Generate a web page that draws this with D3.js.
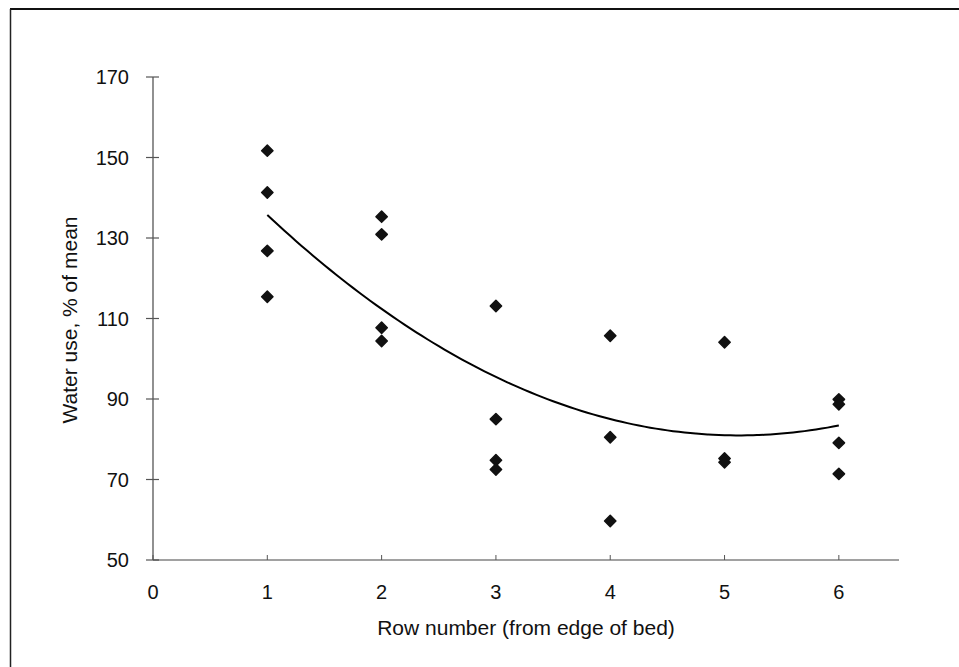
<!DOCTYPE html>
<meta charset="utf-8">
<html>
<head>
    <title>Water use by row</title>
</head>
<style>
    *{ margin:0; padding:0;}
    body{ background:#fff;}
    svg{ display:block; font-family:'Liberation Sans', Arial, sans-serif;}
</style>
<script src="https://cdn.jsdelivr.net/npm/d3@7"></script>
<div id="chartContainer"></div>
<script type="text/javascript">

    // row number of each measurement and its water use (% of mean)
    var rows   = [1, 1, 1, 1, 2, 2, 2, 2, 3, 3, 3, 3, 4, 4, 4, 5, 5, 5, 6, 6, 6, 6];
    var values = [151.7, 141.3, 126.8, 115.4,
                  135.3, 130.9, 107.7, 104.4,
                  113.1, 85.0, 74.8, 72.5,
                  105.7, 80.5, 59.7,
                  104.1, 75.2, 74.3,
                  89.9, 88.7, 79.1, 71.4];

    // polynomial trendline (order 2): c0 + c1*x + c2*x^2
    var trendCoef = [165.5, -33.0, 3.22];
    var trendFrom = 1, trendTo = 6;

    var xTicks = [0, 1, 2, 3, 4, 5, 6];
    var yTicks = [50, 70, 90, 110, 130, 150, 170];

    var width = 959, height = 667;
    var svg = d3.select("#chartContainer").append("svg")
        .attr("width", width)
        .attr("height", height);

    // frame (only top and left edges show in the scan)
    svg.append("line").attr("x1", 10).attr("x2", width).attr("y1", 9).attr("y2", 9)
        .attr("stroke", "#111").attr("stroke-width", 2);
    svg.append("line").attr("x1", 10.5).attr("x2", 10.5).attr("y1", 9).attr("y2", height)
        .attr("stroke", "#222").attr("stroke-width", 1.5);

    var x = d3.scaleLinear().domain([0, 6.5]).range([153, 896]);
    var y = d3.scaleLinear().domain([50, 170]).range([560, 77]);

    // y axis, ticks crossing the line
    var yAxis = svg.append("g");
    yAxis.append("line")
        .attr("x1", x(0)).attr("x2", x(0))
        .attr("y1", y(170)).attr("y2", y(50))
        .attr("stroke", "#555").attr("stroke-width", 1.3);
    yAxis.selectAll(".ytick").data(yTicks).enter().append("line")
        .attr("x1", x(0) - 7).attr("x2", x(0) + 6)
        .attr("y1", function(d){ return y(d); })
        .attr("y2", function(d){ return y(d); })
        .attr("stroke", "#555").attr("stroke-width", 1.2);
    yAxis.selectAll(".ylab").data(yTicks).enter().append("text")
        .attr("x", 129)
        .attr("y", function(d){ return y(d) + 7; })
        .attr("text-anchor", "end")
        .style("font-size", "20px")
        .attr("fill", "#111")
        .text(function(d){ return d; });

    // x axis, small ticks pointing up
    var xAxis = svg.append("g");
    xAxis.append("line")
        .attr("x1", x(0)).attr("x2", 899)
        .attr("y1", y(50)).attr("y2", y(50))
        .attr("stroke", "#444").attr("stroke-width", 1.2);
    xAxis.selectAll(".xtick").data(xTicks).enter().append("line")
        .attr("x1", function(d){ return x(d); })
        .attr("x2", function(d){ return x(d); })
        .attr("y1", y(50) - 5).attr("y2", y(50))
        .attr("stroke", "#555").attr("stroke-width", 1);
    xAxis.selectAll(".xlab").data(xTicks).enter().append("text")
        .attr("x", function(d){ return x(d); })
        .attr("y", 599)
        .attr("text-anchor", "middle")
        .style("font-size", "20px")
        .attr("fill", "#111")
        .text(function(d){ return d; });

    // axis titles
    svg.append("text")
        .attr("x", 526).attr("y", 635)
        .attr("text-anchor", "middle")
        .style("font-size", "21px")
        .attr("fill", "#111")
        .text("Row number (from edge of bed)");
    svg.append("text")
        .attr("transform", "translate(77,320) rotate(-90)")
        .attr("text-anchor", "middle")
        .style("font-size", "21px")
        .attr("fill", "#111")
        .text("Water use, % of mean");

    // trendline
    var trendX = d3.range(trendFrom, trendTo + 0.001, 0.05);
    var line = d3.line()
        .x(function(d){ return x(d); })
        .y(function(d){ return y(trendCoef[0] + trendCoef[1] * d + trendCoef[2] * d * d); })
        .curve(d3.curveMonotoneX);
    svg.append("path")
        .datum(trendX)
        .attr("d", line)
        .attr("fill", "none")
        .attr("stroke", "#000")
        .attr("stroke-width", 2);

    // points
    var diamond = d3.symbol().type(d3.symbolDiamond2).size(82);
    svg.selectAll(".pt").data(values).enter().append("path")
        .attr("d", diamond)
        .attr("transform", function(d, i){ return "translate(" + x(rows[i]) + "," + y(d) + ")"; })
        .attr("fill", "#111")
        .attr("stroke", "#111")
        .attr("stroke-width", 1.5)
        .attr("stroke-linejoin", "round");

</script>
</html>
